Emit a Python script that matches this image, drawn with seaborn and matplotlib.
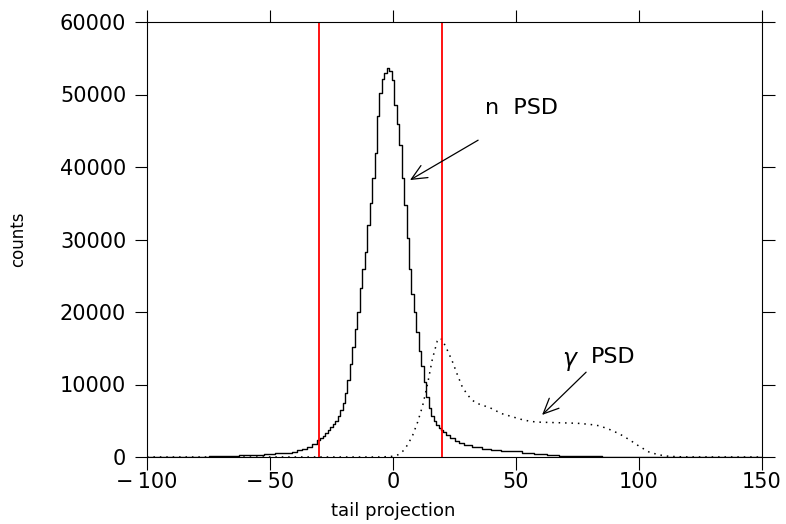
import matplotlib
matplotlib.use("Agg")
import matplotlib.pyplot as plt
import seaborn as sns
import numpy as np

# n PSD (solid histogram) - bin centres and counts
n_x = [-100, -90, -80, -70, -65, -60, -55, -50, -46, -42, -40, -38, -36, -34, -32,
       -30, -29, -28, -27, -26, -25, -24, -23, -22, -21, -20, -19, -18, -17, -16,
       -15, -14, -13, -12, -11, -10, -9, -8, -7, -6, -5, -4, -3, -2, -1, 0,
       1, 2, 3, 4, 5, 6, 7, 8, 9, 10, 11, 12, 13, 14, 15, 16, 17, 18, 19, 20,
       21, 22, 24, 26, 28, 30, 34, 38, 42, 46, 50, 55, 60, 65, 70, 80, 90, 100,
       110, 120, 150]
n_counts = [0, 20, 50, 100, 150, 220, 300, 420, 520, 620, 750, 900, 1100, 1400, 1800,
            2350, 2650, 2950, 3300, 3700, 4100, 4500, 5000, 5700, 6500, 7400, 8800,
            10600, 12800, 15200, 17600, 20000, 23300, 26000, 28300, 32000, 35000,
            38500, 42000, 47000, 50200, 52200, 53000, 53700, 53300, 52000,
            48500, 46000, 43000, 38500, 34700, 30200, 26000, 22500, 20000, 17200,
            14600, 12500, 10300, 8300, 6800, 5600, 4900, 4400, 4000, 3700,
            3400, 3100, 2600, 2250, 1950, 1700, 1400, 1150, 1000, 880, 760, 550,
            350, 230, 150, 80, 40, 20, 8, 0, 0]

# gamma PSD (dotted)
g_x = [-100, -20, -5, 0, 2, 4, 6, 8, 10, 12, 14, 16, 18, 19, 20, 21, 22, 24, 26,
       28, 30, 32, 34, 36, 40, 44, 48, 52, 56, 60, 65, 70, 75, 80, 84, 88, 92,
       96, 100, 104, 108, 112, 116, 120, 150]
g_counts = [0, 0, 0, 100, 300, 800, 1700, 3000, 4800, 7000, 10000, 13500, 16000,
            16400, 16200, 15500, 14800, 13300, 11500, 9800, 8700, 7900, 7400, 7200,
            6700, 6000, 5600, 5200, 4900, 4800, 4750, 4700, 4650, 4500, 4300, 3800,
            3200, 2400, 1500, 700, 300, 100, 40, 10, 0]

cut_lines = [-30, 20]
x_ticks = [-100, -50, 0, 50, 100, 150]
y_ticks = [0, 10000, 20000, 30000, 40000, 50000, 60000]

sns.set_theme(style="ticks")
plt.rcParams["font.family"] = ["DejaVu Sans"]

fig = plt.figure(figsize=(7.86, 5.24), dpi=100)
ax = fig.add_axes([147 / 786, 1 - 457 / 524, (762 - 147) / 786, (457 - 22) / 524])

sns.lineplot(x=n_x, y=n_counts, ax=ax, color="black", lw=1.0,
             drawstyle="steps-mid", estimator=None)
sns.lineplot(x=g_x, y=g_counts, ax=ax, color="black", lw=1.1,
             linestyle=(0, (1, 3.2)), estimator=None)

for c in cut_lines:
    ax.axvline(c, color="red", lw=1.3)

ax.set_xlim(-100, 150)
ax.set_ylim(0, 60000)
ax.set_xticks(x_ticks)
ax.set_yticks(y_ticks)
ax.set_xticklabels([str(v).replace("-", "\u2212\u2009") for v in x_ticks])
ax.set_yticklabels([str(v) for v in y_ticks])

ax.tick_params(direction="out", length=9, width=0.8, top=True, right=True,
               labeltop=False, labelright=False, labelsize=15, colors="black")
ax.tick_params(axis="x", pad=2)
ax.tick_params(axis="y", pad=6)
for s in ax.spines.values():
    s.set_visible(True)
    s.set_linewidth(0.8)
    s.set_color("black")

ax.set_xlabel("tail projection", fontsize=13, color="black")
ax.set_ylabel("counts", fontsize=12, color="black")
ax.xaxis.set_label_coords(0.4, -0.103)
ax.yaxis.set_label_coords(-0.195, 0.5)

arrow_kw = dict(arrowstyle="->,head_length=0.55,head_width=0.25", color="black",
                lw=0.9, mutation_scale=20, shrinkA=0, shrinkB=0)
ax.annotate("", xy=(6.9, 38200), xytext=(34.6, 43700), arrowprops=arrow_kw)
ax.text(37.5, 48100, "n  PSD", fontsize=16, ha="left", va="center", color="black")

ax.annotate("", xy=(60.6, 5800), xytext=(78.5, 11700), arrowprops=arrow_kw)
ax.text(68.5, 13200, r"$\gamma$", fontsize=17, ha="left", va="center", color="black")
ax.text(80.5, 13800, "PSD", fontsize=16, ha="left", va="center", color="black")

fig.savefig("out.png", dpi=100)
